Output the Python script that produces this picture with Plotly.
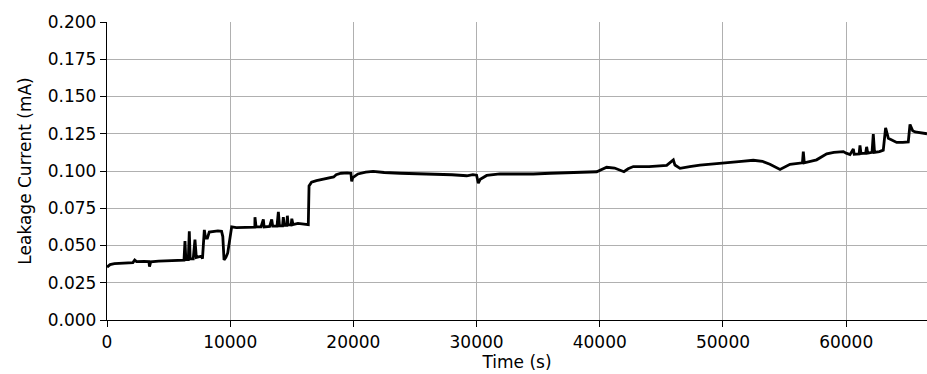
import plotly.graph_objects as go

time_s = [
    0, 250, 600, 1500, 2100, 2250, 2400, 3000, 3400, 3450, 3550, 4200, 5000, 5900,
    6250, 6330, 6400, 6600, 6680, 6750, 7000, 7140, 7250, 7500, 7650, 7750, 7900,
    8000, 8150, 8300, 8600, 9000, 9300, 9400, 9500, 9650, 9800, 10000, 10120,
    10500, 11000, 11500, 12000, 12010, 12100, 12500, 12690, 12750, 13200, 13370,
    13450, 13800, 13910, 14000, 14250, 14310, 14400, 14600, 14640, 14700, 14950,
    15000, 15100, 15500, 16000, 16340, 16400, 16600, 17000, 17600, 18000, 18400,
    18600, 19000, 19500, 19800, 19860, 19950, 20370, 21000, 21600, 22500, 23800,
    25000, 26500, 28000, 29200, 29700, 30000, 30140, 30300, 30820, 31900, 33000,
    34600, 36000, 37300, 38500, 39750, 40560, 41200, 41960, 42300, 42720, 44000,
    45430, 45970, 46100, 46510, 47300, 48130, 49490, 50300, 51500, 52460, 53200,
    53810, 54630, 55440, 56000, 56450, 56520, 56600, 57600, 58420, 59000, 59770,
    60000, 60310, 60580, 60650, 61050, 61120, 61200, 61580, 61660, 61750, 62100,
    62200, 62300, 62700, 63010, 63200, 63420, 63800, 64100, 64600, 65040, 65180,
    65400, 65590, 66000, 66260, 66560,
]
current_mA = [
    0.0355, 0.0372, 0.0378, 0.0382, 0.0385, 0.0402, 0.0392, 0.0393, 0.0392, 0.0358,
    0.0390, 0.0395, 0.0398, 0.0400, 0.0402, 0.0530, 0.0405, 0.0405, 0.0595, 0.0410,
    0.0410, 0.0540, 0.0420, 0.0425, 0.0430, 0.0412, 0.0605, 0.0550, 0.0550, 0.0590,
    0.0595, 0.0598, 0.0595, 0.0560, 0.0403, 0.0420, 0.0450, 0.0560, 0.0625, 0.0620,
    0.0622, 0.0620, 0.0623, 0.0690, 0.0625, 0.0625, 0.0675, 0.0625, 0.0628, 0.0675,
    0.0630, 0.0630, 0.0725, 0.0632, 0.0632, 0.0690, 0.0635, 0.0635, 0.0700, 0.0640,
    0.0638, 0.0680, 0.0640, 0.0648, 0.0642, 0.0640, 0.0900, 0.0925, 0.0935, 0.0945,
    0.0955, 0.0960, 0.0975, 0.0985, 0.0988, 0.0985, 0.0930, 0.0955, 0.0980, 0.0992,
    0.0998, 0.0990, 0.0985, 0.0982, 0.0980, 0.0975, 0.0968, 0.0975, 0.0972, 0.0918,
    0.0945, 0.0970, 0.0980, 0.0978, 0.0980, 0.0985, 0.0988, 0.0990, 0.0995, 0.1025,
    0.1020, 0.0995, 0.1015, 0.1030, 0.1030, 0.1038, 0.1075, 0.1040, 0.1018, 0.1030,
    0.1040, 0.1050, 0.1058, 0.1065, 0.1072, 0.1065, 0.1045, 0.1010, 0.1045, 0.1050,
    0.1055, 0.1130, 0.1055, 0.1075, 0.1115, 0.1125, 0.1130, 0.1120, 0.1110, 0.1148,
    0.1112, 0.1115, 0.1172, 0.1118, 0.1120, 0.1162, 0.1120, 0.1125, 0.1248, 0.1125,
    0.1130, 0.1140, 0.1290, 0.1220, 0.1205, 0.1192, 0.1192, 0.1195, 0.1312, 0.1270,
    0.1262, 0.1255, 0.1252, 0.1250,
]

y_ticks = [0.0, 0.025, 0.05, 0.075, 0.1, 0.125, 0.15, 0.175, 0.2]
x_ticks = [0, 10000, 20000, 30000, 40000, 50000, 60000]

font = dict(family="DejaVu Sans", size=17, color="black")

fig = go.Figure()
fig.add_trace(go.Scatter(
    x=time_s, y=current_mA, mode="lines",
    line=dict(color="black", width=2.8),
    showlegend=False,
))

axis_common = dict(
    showline=True, linecolor="black", linewidth=1.3,
    ticks="outside", ticklen=6, tickwidth=1.3, tickcolor="black",
    showgrid=True, gridcolor="#b0b0b0", gridwidth=1.3,
    zeroline=False, mirror=False, tickfont=font,
)

fig.update_layout(
    width=927, height=374,
    margin=dict(l=107, r=0, t=22, b=54),
    paper_bgcolor="white", plot_bgcolor="white",
    font=font,
    xaxis=dict(
        range=[0, 66560], tickmode="array", tickvals=x_ticks,
        ticktext=[str(v) for v in x_ticks],
        title=dict(text="Time (s)", font=font, standoff=4),
        **axis_common,
    ),
    yaxis=dict(
        range=[0, 0.2], tickmode="array", tickvals=y_ticks,
        ticktext=[f"{v:.3f}" for v in y_ticks],
        title=dict(text="Leakage Current (mA)", font=font, standoff=11),
        **axis_common,
    ),
)

fig.write_html("out.html")
